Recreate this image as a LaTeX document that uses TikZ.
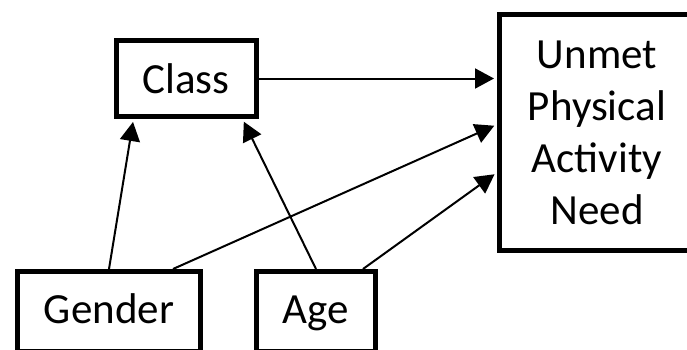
\documentclass[tikz,border=0pt]{standalone}
\usepackage{fontspec}
\setmainfont{Carlito}
\usetikzlibrary{arrows.meta,positioning}

\tikzset{
  box/.style={draw,line width=2.5pt,inner sep=0pt,align=center,
    font=\fontsize{21.5}{26}\selectfont},
  lowbox/.style={box,minimum height=40pt,text height=13pt,text depth=1.5pt},
  link/.style={line width=1pt,-{Triangle[length=9.5pt,width=10pt]},shorten >=1.5pt}
}

\begin{document}
\begin{tikzpicture}[x=0.5pt,y=-0.5pt]
      \useasboundingbox (0, 0) rectangle (687, 349);
      \clip (0, 0) rectangle (687, 349);

      % Boxes
      \node[box,minimum width=70pt,minimum height=38pt] (class) at (186, 78.5) {Class};
      \node[lowbox,minimum width=91.5pt] (gender) at (109, 311.5) {Gender};
      \node[lowbox,minimum width=59.5pt] (age) at (316, 311.5) {Age};
      \node[box,minimum width=97.5pt,minimum height=118pt] (need) at (597, 132.5)
        {Unmet\\Physical\\Activity\\Need};

      % Paths into Class
      \draw[link] (gender.north) -- ([xshift=10pt]class.south west);
      \draw[link] (age.north) -- ([xshift=-8pt]class.south east);

      % Paths into the outcome
      \draw[link] (class.east) -- (class.east -| need.west);
      \draw[link] ([xshift=32pt]gender.north) -- ([yshift=4pt]need.west);
      \draw[link] ([xshift=23.5pt]age.north) -- ([yshift=-20pt]need.west);
    \end{tikzpicture}
\end{document}
